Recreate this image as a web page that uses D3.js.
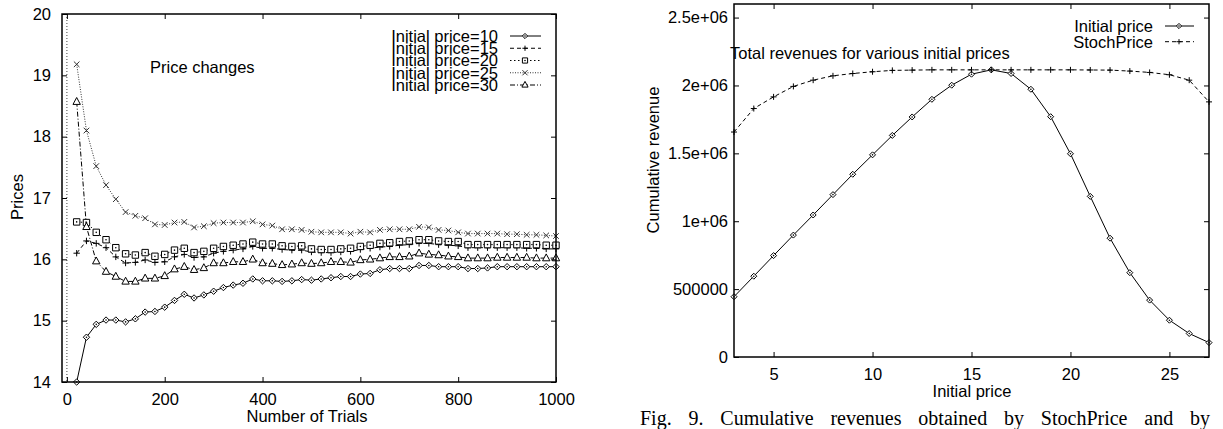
<!DOCTYPE html>
<html lang="en">
<head>
<meta charset="UTF-8">
<title>Price changes / Total revenues</title>
<script src="https://cdn.jsdelivr.net/npm/d3@7"></script>
<style>
  body { margin: 0; background: #fff; }
  svg text { font-family: 'Liberation Sans', Arial, sans-serif; font-size: 16.5px; fill: #000; }
  svg text.caption { font-family: 'Liberation Serif', 'Times New Roman', serif; font-size: 20px; }
</style>
</head>
<body>
<svg id="chart" width="1223" height="429"></svg>
<script>
// ---- left chart data: price after n trials ----
const trials = d3.range(20, 1001, 20)
const p10 = [14.00,14.73,14.94,15.01,15.01, 14.98,15.03,15.14,15.15,15.22, 15.33,15.43,15.37,15.42,15.48,
  15.54,15.58,15.61,15.68,15.65, 15.65,15.64,15.65,15.67,15.66, 15.68,15.70,15.72,15.72,15.76,
  15.77,15.83,15.85,15.85,15.85, 15.90,15.90,15.88,15.88,15.88, 15.85,15.85,15.86,15.88,15.88,
  15.88,15.88,15.88,15.88,15.88]
const p15 = [16.10,16.30,16.26,16.19,16.04, 15.94,15.95,15.99,15.95,15.96, 16.04,16.08,16.03,16.04,16.10,
  16.13,16.15,16.17,16.21,16.18, 16.18,16.16,16.15,16.15,16.12, 16.11,16.11,16.12,16.13,16.16,
  16.18,16.20,16.21,16.23,16.24, 16.26,16.26,16.24,16.23,16.22, 16.19,16.19,16.19,16.19,16.19,
  16.19,16.18,16.18,16.17,16.17]
const p20 = [16.61,16.60,16.44,16.32,16.19, 16.09,16.07,16.11,16.05,16.08, 16.15,16.18,16.11,16.13,16.18,
  16.21,16.23,16.25,16.28,16.25, 16.25,16.22,16.21,16.22,16.17, 16.16,16.16,16.17,16.18,16.21,
  16.23,16.26,16.27,16.29,16.30, 16.32,16.32,16.30,16.29,16.29, 16.24,16.24,16.24,16.24,16.24,
  16.24,16.24,16.24,16.23,16.23]
const p25 = [19.18,18.10,17.52,17.21,16.98, 16.77,16.71,16.67,16.57,16.56, 16.60,16.61,16.52,16.54,16.59,
  16.60,16.60,16.60,16.62,16.57, 16.55,16.49,16.49,16.48,16.45, 16.44,16.44,16.44,16.42,16.45,
  16.44,16.48,16.49,16.49,16.49, 16.53,16.52,16.48,16.47,16.44, 16.42,16.42,16.42,16.42,16.41,
  16.41,16.40,16.40,16.39,16.38]
const p30 = [18.57,16.53,15.97,15.80,15.72, 15.64,15.64,15.69,15.69,15.73, 15.84,15.88,15.83,15.86,15.94,
  15.94,15.96,15.96,16.00,15.94, 15.93,15.91,15.92,15.94,15.93, 15.94,15.96,15.96,15.95,15.99,
  16.00,16.02,16.04,16.04,16.05, 16.10,16.08,16.07,16.05,16.04, 16.02,16.02,16.02,16.03,16.03,
  16.03,16.03,16.02,16.02,16.02]
const leftLabels = ["Initial price=10", "Initial price=15", "Initial price=20", "Initial price=25", "Initial price=30"]
const trialTicks = [0, 200, 400, 600, 800, 1000]
const priceTicks = [14, 15, 16, 17, 18, 19, 20]

// ---- right chart data: cumulative revenue per initial price ----
const initPrices = d3.range(3, 28)
const revInitial = [444000, 595000, 747000, 898000, 1046000, 1196000, 1346000, 1489000, 1632000, 1768000,
  1898000, 2002000, 2083000, 2115000, 2088000, 1972000, 1770000, 1497000, 1183000, 875000,
  621000, 419000, 271000, 173000, 106000]
const revStoch = [1657000, 1830000, 1916000, 1993000, 2039000, 2071000, 2088000, 2101000, 2111000, 2113000,
  2115000, 2115000, 2115000, 2115000, 2115000, 2115000, 2115000, 2115000, 2114000, 2113000,
  2106000, 2096000, 2079000, 2039000, 1879000]
const rightLabels = ["Initial price", "StochPrice"]
const initTicks = [5, 10, 15, 20, 25]
const revTicks = [0, 500000, 1000000, 1500000, 2000000, 2500000]
const revTickLabels = ["0", "500000", "1e+06", "1.5e+06", "2e+06", "2.5e+06"]

const captionWords = ["Fig.", "9.", "Cumulative", "revenues", "obtained", "by", "StochPrice", "and", "by"]

const svg = d3.select("#chart")

// marker shapes, gnuplot-like
const symbols = {
  diamond: s => `M0,${-s}L${s},0L0,${s}L${-s},0Z`,
  plus: s => `M${-s},0H${s}M0,${-s}V${s}`,
  square: s => `M${-s},${-s}H${s}V${s}H${-s}Z`,
  cross: s => `M${-s},${-s}L${s},${s}M${-s},${s}L${s},${-s}`,
  triangle: s => `M0,${-s - 1}L${s + 0.5},${s - 0.5}L${-s - 0.5},${s - 0.5}Z`
}
const styles = [
  { sym: "diamond", dash: null, color: "#000", fill: "#fff", dot: true },
  { sym: "plus", dash: "4,3", color: "#000", fill: "none" },
  { sym: "square", dash: "1.5,2.5", color: "#000", fill: "#fff", dot: true },
  { sym: "cross", dash: "1,1.5", color: "#333", fill: "none" },
  { sym: "triangle", dash: "5,2,1,2", color: "#000", fill: "#fff" }
]

function drawMarks(g, pts, st, size) {
  const m = g.selectAll(null).data(pts).enter().append("g")
    .attr("transform", d => `translate(${d[0]},${d[1]})`)
  m.append("path")
    .attr("d", symbols[st.sym](size))
    .attr("fill", st.fill)
    .attr("stroke", st.color)
    .attr("stroke-width", 1)
  if (st.dot) m.append("circle").attr("r", 0.8).attr("fill", "#000")
}

function frame(g, x, y, xTicks, yTicks, xFormat, yFormat, padX, padY) {
  const [x0, x1] = x.range()
  const [y1, y0] = y.range()
  g.append("g").attr("transform", `translate(0,${y1})`)
    .call(d3.axisBottom(x).tickValues(xTicks).tickSize(-5).tickSizeOuter(0).tickPadding(padX).tickFormat(xFormat))
  g.append("g").attr("transform", `translate(0,${y0})`)
    .call(d3.axisTop(x).tickValues(xTicks).tickSize(-5).tickSizeOuter(0).tickFormat(""))
  g.append("g").attr("transform", `translate(${x0},0)`)
    .call(d3.axisLeft(y).tickValues(yTicks).tickSize(-5).tickSizeOuter(0).tickPadding(padY).tickFormat(yFormat))
  g.append("g").attr("transform", `translate(${x1},0)`)
    .call(d3.axisRight(y).tickValues(yTicks).tickSize(-5).tickSizeOuter(0).tickFormat(""))
  g.selectAll(".domain").remove()
  g.selectAll(".tick line").attr("stroke", "#000")
  g.append("rect").attr("x", x0).attr("y", y0).attr("width", x1 - x0).attr("height", y1 - y0)
    .attr("fill", "none").attr("stroke", "#000").attr("stroke-width", 1.5)
}

// ================= left chart =================
const xL = d3.scaleLinear().domain([-10, 1000]).range([62, 556])
const yL = d3.scaleLinear().domain([14, 20]).range([382, 14])
const gL = svg.append("g")

gL.append("line")
  .attr("x1", xL(0)).attr("x2", xL(0)).attr("y1", yL(20)).attr("y2", yL(14))
  .attr("stroke", "#444").attr("stroke-dasharray", "1,2")

const leftSeries = [p10, p15, p20, p25, p30]
const lineL = d3.line().x(d => xL(d[0])).y(d => yL(d[1]))
leftSeries.forEach((vals, i) => {
  const st = styles[i]
  const pts = trials.map((t, j) => [t, vals[j]])
  gL.append("path").datum(pts).attr("d", lineL)
    .attr("fill", "none").attr("stroke", st.color).attr("stroke-width", 1)
    .attr("stroke-dasharray", st.dash)
  drawMarks(gL, pts.map(d => [xL(d[0]), yL(d[1])]), st, st.sym === "cross" ? 2.8 : 3.2)
})

frame(gL, xL, yL, trialTicks, priceTicks, d3.format("d"), d3.format("d"), 11.3, 11)

gL.append("text").attr("x", 150).attr("y", 73).text("Price changes")
gL.append("text").attr("x", 307).attr("y", 421.5).attr("text-anchor", "middle").text("Number of Trials")
gL.append("text").attr("transform", "translate(23,197) rotate(-90)").attr("text-anchor", "middle").text("Prices")

leftLabels.forEach((lab, i) => {
  const y = 36 + i * 12.25
  const st = styles[i]
  gL.append("text").attr("x", 498).attr("y", y + 5.9).attr("text-anchor", "end").text(lab)
  gL.append("line").attr("x1", 510).attr("x2", 541).attr("y1", y).attr("y2", y)
    .attr("stroke", st.color).attr("stroke-dasharray", st.dash)
  drawMarks(gL, [[525, y]], st, 2.6)
})

// ================= right chart =================
const xR = d3.scaleLinear().domain([3, 27]).range([734, 1209])
const yR = d3.scaleLinear().domain([0, 2600000]).range([357, 4])
const gR = svg.append("g")
const lineR = d3.line().x(d => xR(d[0])).y(d => yR(d[1]))

const rightSeries = [revInitial, revStoch]
const rightStyles = [styles[0], { sym: "plus", dash: "4,3", color: "#000", fill: "none" }]
rightSeries.forEach((vals, i) => {
  const st = rightStyles[i]
  const pts = initPrices.map((p, j) => [p, vals[j]])
  gR.append("path").datum(pts).attr("d", lineR)
    .attr("fill", "none").attr("stroke", st.color).attr("stroke-width", 1)
    .attr("stroke-dasharray", st.dash)
  drawMarks(gR, pts.map(d => [xR(d[0]), yR(d[1])]), st, 3)
})

frame(gR, xR, yR, initTicks, revTicks, d3.format("d"), (d, i) => revTickLabels[i], 11.6, 6)

gR.append("text").attr("x", 730).attr("y", 59).text("Total revenues for various initial prices")
gR.append("text").attr("x", 972).attr("y", 396.5).attr("text-anchor", "middle").text("Initial price")
gR.append("text").attr("transform", "translate(659,160) rotate(-90)").attr("text-anchor", "middle").text("Cumulative revenue")

rightLabels.forEach((lab, i) => {
  const y = 26 + i * 15.7
  const st = rightStyles[i]
  gR.append("text").attr("x", 1153).attr("y", y + 5.9).attr("text-anchor", "end").text(lab)
  gR.append("line").attr("x1", 1165).attr("x2", 1194).attr("y1", y).attr("y2", y)
    .attr("stroke", st.color).attr("stroke-dasharray", st.dash)
  drawMarks(gR, [[1179, y]], st, 2.6)
})

// ================= caption (justified) =================
const capG = svg.append("g")
const capNodes = captionWords.map(w => capG.append("text").attr("class", "caption").attr("y", 424.5).text(w))
const widths = capNodes.map(n => n.node().getComputedTextLength())
const capX0 = 640, capX1 = 1210
const gap = (capX1 - capX0 - d3.sum(widths)) / (captionWords.length - 1)
let cx = capX0
capNodes.forEach((n, i) => { n.attr("x", cx); cx += widths[i] + gap })
</script>
</body>
</html>
